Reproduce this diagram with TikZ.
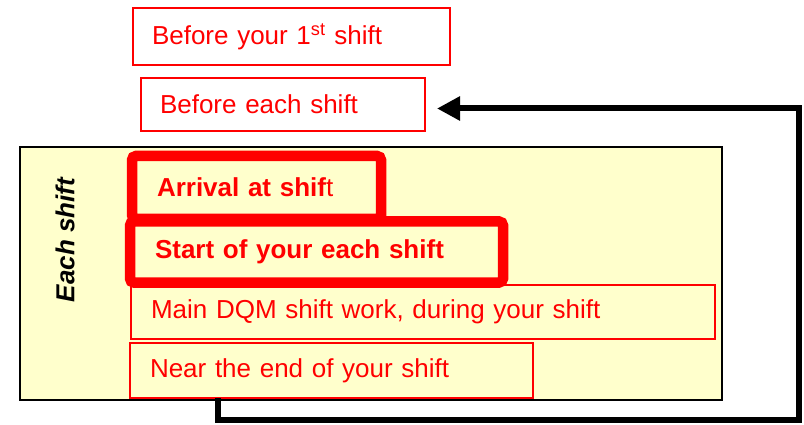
\documentclass[tikz,border=0pt]{standalone}
\usepackage{fontspec}
\setmainfont{Liberation Sans}
\usepackage{xcolor}
\usetikzlibrary{arrows.meta}
\definecolor{panelfill}{RGB}{255,255,204}

\begin{document}
\begin{tikzpicture}[x=1pt,y=-1pt,
  every node/.style={font=\fontsize{26}{31}\selectfont},
  thinbox/.style={draw=red,line width=1.5pt,text=red,anchor=north west,
    align=left,outer sep=0pt,inner ysep=0pt},
  thickbox/.style={draw=red,line width=10.5pt,rounded corners=4pt,text=red,
    anchor=north west,align=left,outer sep=0pt,inner ysep=0pt,inner xsep=25pt,
    font=\fontsize{26}{31}\selectfont\bfseries},
  backarrow/.style={line width=6pt,-{Triangle[length=23pt,width=23pt]}}]
  \useasboundingbox (0,0) rectangle (804,425);
  % the shift itself
  \draw[fill=panelfill,line width=1.5pt] (20,147) rectangle (722,400);
  \node[rotate=90,font=\fontsize{26}{31}\selectfont\bfseries\itshape] (each) at (65,240) {Each shift};
  \node[thickbox,minimum width=249pt,minimum height=63pt,text width=199pt] (arrival) at (132,156)
    {Arrival at shif{\mdseries t}};
  \node[thickbox,minimum width=373pt,minimum height=61pt,text width=323pt] (start) at (130,221.5)
    {Start of your each shift};
  \node[thinbox,inner xsep=20pt,minimum width=584pt,minimum height=54pt,text width=544pt] (dqm) at (131,285)
    {Main DQM shift work, during your shift};
  \node[thinbox,inner xsep=20pt,minimum width=403pt,minimum height=55pt,text width=363pt] (near) at (130,343)
    {Near the end of your shift};
  % before the shift
  \node[thinbox,inner xsep=19pt,minimum width=317pt,minimum height=57pt,text width=279pt] (first) at (133,8)
    {Before your 1\textsuperscript{st} shift};
  \node[thinbox,inner xsep=19pt,minimum width=284pt,minimum height=53pt,text width=246pt] (before) at (141,78)
    {Before each shift};
  % back to the next shift
  \coordinate (loopcorner) at (799,420);
  \draw[backarrow] ([xshift=88pt]near.south west) |- (loopcorner) |- ([xshift=12pt,yshift=-4pt]before.east);
\end{tikzpicture}
\end{document}
